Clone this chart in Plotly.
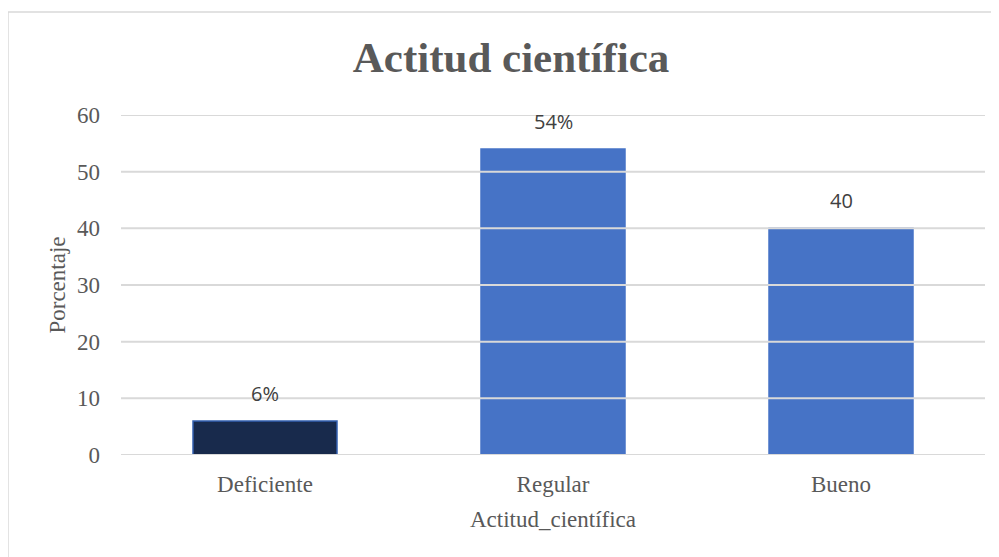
import plotly.graph_objects as go

categories = ["Deficiente", "Regular", "Bueno"]
values = [6, 54, 40]
labels = ["6%", "54%", "40"]
bar_colors = ["#182a4c", "#4673c6", "#4673c6"]
line_colors = ["#3360b0", "#4673c6", "#4673c6"]
y_ticks = [0, 10, 20, 30, 40, 50, 60]

fig = go.Figure()
fig.add_trace(go.Bar(
    x=categories, y=values,
    marker=dict(color=bar_colors, line=dict(color=line_colors, width=1.5)),
    hoverinfo="skip",
))

for c, v, t in zip(categories, values, labels):
    fig.add_annotation(x=c, y=v, text=t, showarrow=False, yanchor="middle", yshift=28,
                       font=dict(family="Open Sans", size=20, color="#404040"))

# gridlines drawn above bars
for t in y_ticks:
    fig.add_shape(type="line", xref="paper", x0=0, x1=1, yref="y", y0=t, y1=t,
                  line=dict(color="#d9d9d9", width=2), layer="above")

# chart border
fig.add_shape(type="rect", xref="paper", yref="paper", x0=-0.1308, x1=1.05, y0=-0.5, y1=1.303,
              line=dict(color="#d9d9d9", width=1.5), layer="below")

serif = "Liberation Serif"
fig.update_layout(
    width=991, height=549,
    margin=dict(l=113, r=14, t=107, b=102),
    paper_bgcolor="white", plot_bgcolor="white",
    showlegend=False,
    bargap=0.5,
    title=dict(text="<b>Actitud científica</b>", x=0.4514, xref="paper", xanchor="center",
               y=0.91, yref="container", yanchor="middle",
               font=dict(family=serif, size=43, color="#595959")),
    xaxis=dict(title=dict(text="Actitud_científica", standoff=14,
                          font=dict(family=serif, size=23, color="#595959")),
               tickfont=dict(family=serif, size=23, color="#595959"),
               showgrid=False, showline=False, ticks="", ticklabelstandoff=13),
    yaxis=dict(title=dict(text="Porcentaje", standoff=4,
                          font=dict(family=serif, size=23, color="#595959")),
               range=[0, 60], tickvals=y_ticks,
               tickfont=dict(family=serif, size=23, color="#595959"),
               showgrid=False, zeroline=False, showline=False, ticks="", ticklabelstandoff=20),
)

fig.write_html("out.html")
